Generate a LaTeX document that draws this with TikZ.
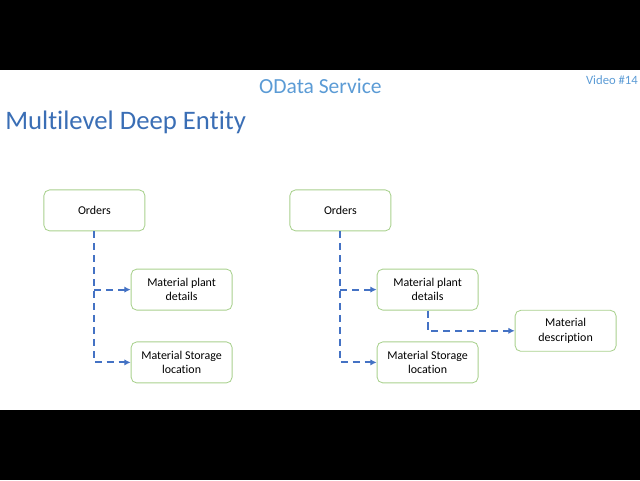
\documentclass[tikz,border=0pt]{standalone}
\usepackage{fontspec}
\setmainfont{Carlito}[Ligatures=CommonOff]
\usetikzlibrary{arrows.meta}
\definecolor{boxgreen}{HTML}{A9D18E}
\definecolor{linkblue}{HTML}{4472C4}
\definecolor{titleblue}{HTML}{3A6EB5}
\definecolor{lightblue}{HTML}{5B9BD5}
\tikzset{
	entity/.style={draw=boxgreen, line width=0.6pt, rounded corners=4pt, fill=white,
		minimum width=2.525cm, minimum height=1.025cm, align=center, font=\fontsize{8.5}{10}\selectfont},
	link/.style={linkblue, line width=1.4pt, dash pattern=on 5pt off 3.5pt, -{Latex[length=4.5pt,width=4.5pt]}}
}
\begin{document}
\begin{tikzpicture}
	\useasboundingbox (0,0) rectangle (16,12);
	\fill[black] (0,0) rectangle (16,1.75);
	\fill[black] (0,10.25) rectangle (16,12);
	\node[anchor=east, inner sep=0pt, text=lightblue, font=\fontsize{9}{11}\selectfont] (video) at (15.95,10.0) {Video \#14};
	\node[text=lightblue, font=\fontsize{15.3}{18}\selectfont] (service) at (8.01,9.85) {OData Service};
	\node[anchor=west, inner sep=0pt, text=titleblue, font=\fontsize{19}{22}\selectfont] (title) at (0.125,8.95) {Multilevel Deep Entity};
	% left tree
	\node[entity] (o1) at (2.36,6.74) {Orders};
	\node[entity] (p1) at (4.54,4.76) {Material plant\\details};
	\node[entity] (s1) at (4.54,2.94) {Material Storage\\location};
	\draw[link] (o1.south) |- (s1.west);
	\draw[link] (o1.south |- p1.west) -- (p1.west);
	% right tree
	\node[entity] (o2) at (8.51,6.74) {Orders};
	\node[entity] (p2) at (10.69,4.76) {Material plant\\details};
	\node[entity] (s2) at (10.69,2.94) {Material Storage\\location};
	\node[entity] (d2) at (14.14,3.73) {Material\\description};
	\draw[link] (o2.south) |- (s2.west);
	\draw[link] (o2.south |- p2.west) -- (p2.west);
	\draw[link] (p2.south) |- (d2.west);
\end{tikzpicture}
\end{document}
